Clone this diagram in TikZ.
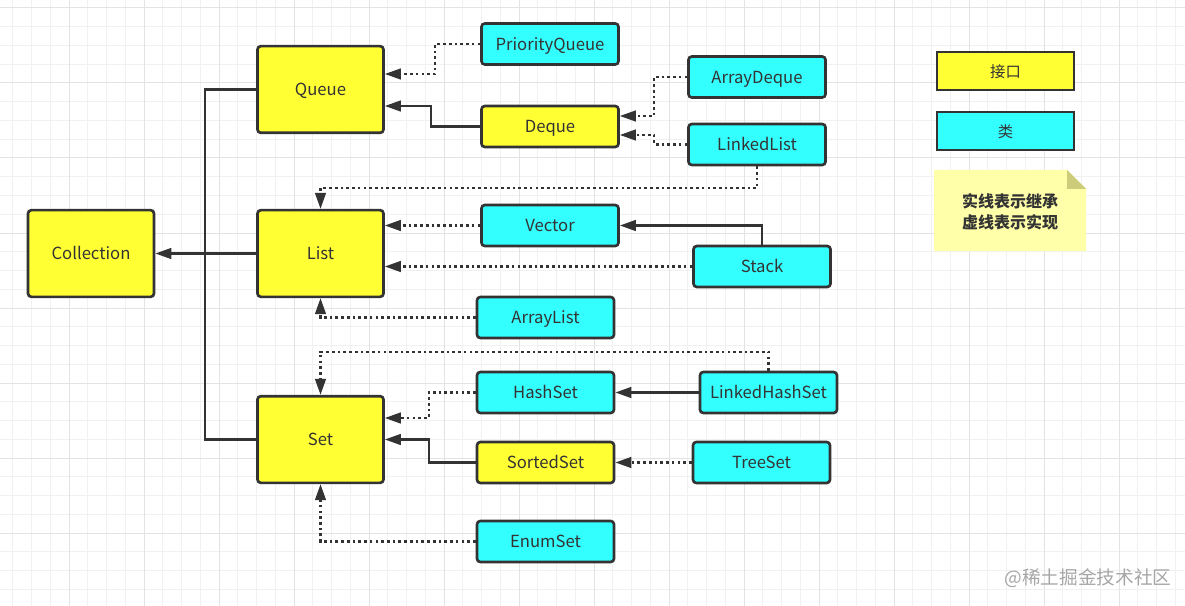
\documentclass[tikz,border=0pt]{standalone}
\usepackage{fontspec}
\setmainfont{Noto Sans CJK SC}
\usetikzlibrary{arrows.meta}

\definecolor{ifacefill}{HTML}{FFFF33}
\definecolor{classfill}{HTML}{33FFFF}
\definecolor{linecol}{HTML}{333333}
\definecolor{notefill}{HTML}{FFFFAA}
\definecolor{notefold}{HTML}{CCCC7A}
\definecolor{gridminor}{HTML}{F1F1F1}
\definecolor{gridmajor}{HTML}{E3E3E3}

\begin{document}
\begin{tikzpicture}[x=0.75pt, y=-0.75pt,
                    box_style/.style={draw=linecol, line width=2pt, rounded corners=2.5pt, inner sep=0pt,
                                      text=linecol, font=\fontsize{12.5}{14}\selectfont,
                                      text height=0.95em, text depth=0em},
                    big_iface/.style={box_style, fill=ifacefill, minimum width=94.5pt, minimum height=65pt},
                    small_iface/.style={box_style, fill=ifacefill, minimum width=102.75pt, minimum height=30.75pt},
                    small_class/.style={box_style, fill=classfill, minimum width=102.75pt, minimum height=30.75pt},
                    legend_box/.style={box_style, rounded corners=0pt, minimum width=102.75pt, minimum height=28.5pt,
                                       font=\fontsize{11.5}{13}\selectfont},
                    solid_edge/.style={draw=linecol, line width=1.75pt, -{Triangle[length=12pt,width=8pt]}},
                    plain_edge/.style={draw=linecol, line width=1.75pt},
                    dot_edge/.style={solid_edge, dash pattern=on 2pt off 2.3pt}]
                    % background and grid
                    \fill[white] (0,0) rectangle (1185,606);
                    \useasboundingbox (0,0) rectangle (1185,606);
                    \foreach \i in {0,...,63}
                        \draw[gridminor, line width=0.75pt] (12.75+18.75*\i,0) -- (12.75+18.75*\i,606);
                    \foreach \j in {0,...,32}
                        \draw[gridminor, line width=0.75pt] (0,8+18.75*\j) -- (1185,8+18.75*\j);
                    \foreach \i in {0,...,15}
                        \draw[gridmajor, line width=0.75pt] (69+75*\i,0) -- (69+75*\i,606);
                    \foreach \j in {0,...,8}
                        \draw[gridmajor, line width=0.75pt] (0,8+75*\j) -- (1185,8+75*\j);

                    % interfaces
                    \node[big_iface] (collection) at (91, 253.5) {Collection};
                    \node[big_iface] (queue) at (320.5, 89.5) {Queue};
                    \node[big_iface] (list) at (320.5, 253.5) {List};
                    \node[big_iface] (set) at (320.5, 439.5) {Set};
                    \node[small_iface] (deque) at (550, 126.5) {Deque};
                    \node[small_iface] (sset) at (545.5, 462.5) {SortedSet};

                    % classes
                    \node[small_class] (pqueue) at (550, 44) {PriorityQueue};
                    \node[small_class] (adeque) at (757, 77) {ArrayDeque};
                    \node[small_class] (llist) at (757, 144.5) {LinkedList};
                    \node[small_class] (vector) at (550, 225.5) {Vector};
                    \node[small_class] (stack) at (762, 266.5) {Stack};
                    \node[small_class] (alist) at (545.5, 317.5) {ArrayList};
                    \node[small_class] (hset) at (545.5, 392.5) {HashSet};
                    \node[small_class] (lhset) at (768.5, 392.5) {LinkedHashSet};
                    \node[small_class] (tset) at (761.5, 462.5) {TreeSet};
                    \node[small_class] (eset) at (545.5, 541.5) {EnumSet};

                    % legend
                    \node[legend_box, fill=ifacefill] (leg_iface) at (1005.5, 71) {接口};
                    \node[legend_box, fill=classfill] (leg_class) at (1005.5, 131) {类};
                    \fill[notefill] (934,170) -- (1067,170) -- (1086,189) -- (1086,251) -- (934,251) -- cycle;
                    \fill[notefold] (1067,170) -- (1067,189) -- (1086,189) -- cycle;
                    \node[text=linecol, align=center, font=\fontsize{12}{15.75}\selectfont\bfseries] (note) at (1010, 211.5) {实线表示继承\\虚线表示实现};

                    % edges to Collection
                    \coordinate (trunk) at (205, 253.5);
                    \draw[solid_edge] (list.west) -- (collection.east);
                    \draw[plain_edge] (queue.west) -| (trunk);
                    \draw[plain_edge] (set.west) -| (trunk);

                    % Queue branch
                    \draw[dot_edge] (pqueue.west) -- ++(-45,0) |- (queue.east |- 0,74);
                    \draw[solid_edge] (deque.west) -- ++(-49,0) |- (queue.east |- 0,106);
                    \draw[dot_edge] (adeque.west) -- ++(-33,0) |- (deque.east |- 0,116);
                    \draw[dot_edge] (llist.west) -- ++(-33,0) |- (deque.east |- 0,135);

                    % List branch
                    \draw[dot_edge] (llist.south) -- ++(0,22) -| (list.north);
                    \draw[dot_edge] (vector.west) -- (list.east |- vector.west);
                    \draw[solid_edge] (stack.north) |- (vector.east);
                    \draw[dot_edge] (stack.west) -- (list.east |- stack.west);
                    \draw[dot_edge] (alist.west) -| (list.south);

                    % Set branch
                    \draw[dot_edge] (lhset.north) -- ++(0,-19) -| (set.north);
                    \draw[dot_edge] (hset.west) -- ++(-47,0) |- (set.east |- 0,418);
                    \draw[solid_edge] (lhset.west) -- (hset.east);
                    \draw[solid_edge] (sset.west) -- ++(-47,0) |- (set.east);
                    \draw[dot_edge] (tset.west) -- (sset.east);
                    \draw[dot_edge] (eset.west) -| (set.south);

                    % watermark
                    \node[text=black!35, font=\fontsize{14}{16}\selectfont] (mark) at (1088, 578) {@稀土掘金技术社区};
                \end{tikzpicture}
\end{document}
